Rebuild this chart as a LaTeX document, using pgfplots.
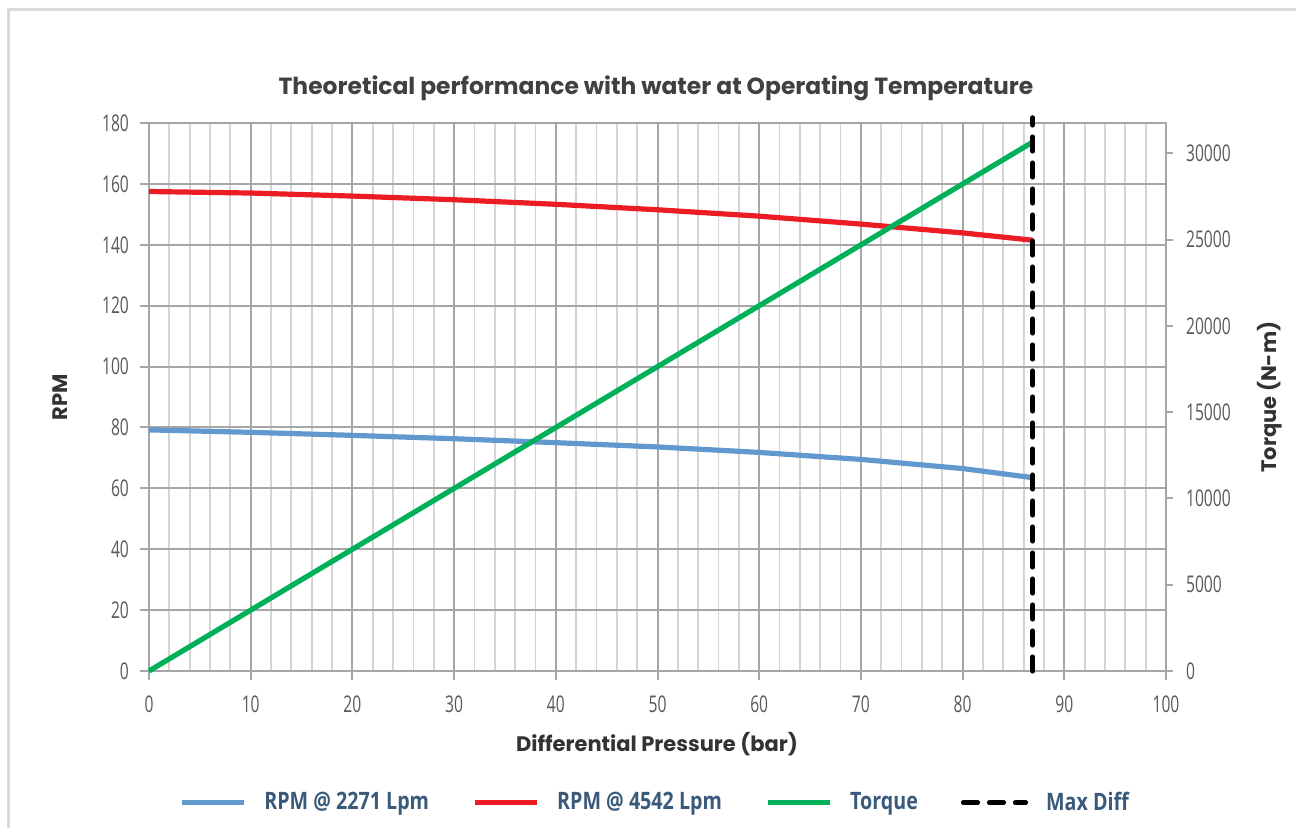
\documentclass[border=0pt]{standalone}
\usepackage{fontspec}
\setmainfont{Open Sans}
\newfontfamily\tickfont{Open Sans}[FakeStretch=0.68]
\newfontfamily\legfont{Open Sans}[FakeStretch=0.82]
\newfontfamily\headfont{Poppins}
\usepackage{pgfplots}
\pgfplotsset{compat=1.18}

\definecolor{rpmblue}{HTML}{6199CF}
\definecolor{rpmred}{HTML}{EC1C24}
\definecolor{torquegreen}{HTML}{00B159}
\definecolor{gridmajor}{HTML}{A6A6A6}
\definecolor{gridminor}{HTML}{D4D4D4}
\definecolor{ticktext}{HTML}{595959}
\definecolor{labeltext}{HTML}{333333}
\definecolor{legendtext}{HTML}{3A5A7C}

\pgfplotsset{
  common/.style={
    at={(74.5pt,78pt)}, anchor=south west,
    scale only axis, width=508.5pt, height=274pt,
    xmin=0, xmax=100,
    /pgf/number format/assume math mode=true,
    /pgf/number format/1000 sep={},
    tick label style={font=\tickfont\fontsize{11.5}{12}\selectfont, text=ticktext},
    label style={font=\headfont\bfseries\fontsize{10.5}{12}\selectfont, text=labeltext},
    tick align=outside,
    tick style={draw=gridmajor, line width=1pt},
    axis line style={draw=gridmajor, line width=1pt},
  }
}

\begin{document}
\begin{tikzpicture}[x=1pt,y=1pt]
\path[use as bounding box] (0,0) rectangle (648,413.5);
\draw[black!15, line width=1.5pt] (4,408.5) rectangle (660,-10);

% RPM axis
\begin{axis}[
  common,
  ymin=0, ymax=180,
  xtick distance=10, ytick distance=20, minor x tick num=4,
  xtick pos=bottom, ytick pos=left,
  major tick length=4.5pt, minor tick length=0pt,
  xticklabel style={yshift=-4.5pt},
  yticklabel style={xshift=-2pt},
  grid=both,
  major grid style={draw=gridmajor, line width=1pt},
  minor grid style={draw=gridminor, line width=0.9pt},
  title={Theoretical performance with water at Operating Temperature},
  title style={at={(axis description cs:0.4985,1.0675)}, anchor=center, yshift=-7pt,
    font=\headfont\bfseries\fontsize{11.7}{14}\selectfont, text=black!75},
  xlabel={Differential Pressure (bar)},
  xlabel style={at={(axis description cs:0.4995,-0.133)}, anchor=center},
  ylabel={RPM},
  ylabel style={at={(axis description cs:-0.0875,0.5)}, anchor=center},
]
\addplot[rpmblue, line width=2.6pt] coordinates {
  (0,79.2) (10,78.4) (20,77.4) (30,76.3) (40,75.0) (50,73.6)
  (60,71.8) (70,69.5) (80,66.5) (86.9,63.5)
};
\addplot[rpmred, line width=2.6pt] coordinates {
  (0,157.5) (10,157.0) (20,156.0) (30,154.8) (40,153.3) (50,151.5)
  (60,149.4) (70,146.8) (80,143.9) (86.9,141.5)
};
\end{axis}

% Torque axis
\begin{axis}[
  common,
  ymin=0, ymax=31750,
  axis x line=none, axis y line*=right,
  ytick={0,5000,10000,15000,20000,25000,30000},
  scaled y ticks=false,
  major tick length=3.5pt,
  yticklabel style={xshift=3pt},
  clip=false,
  ylabel={Torque (N-m)},
  ylabel style={at={(axis description cs:1.1023,0.5)}, anchor=center},
  legend columns=4,
  legend cell align=left,
  legend image code/.code={\draw[#1] (0pt,0pt) -- (31pt,0pt);},
  legend style={at={(axis description cs:0.4985,-0.24)}, anchor=center,
    draw=none, fill=none,
    font={\color{legendtext}\legfont\bfseries\fontsize{12}{14}\selectfont},
    /tikz/every odd column/.append style={column sep=7pt},
    /tikz/every even column/.append style={column sep=19.5pt}},
]
\addlegendimage{rpmblue, line width=2.6pt}
\addlegendentry{RPM @ 2271 Lpm}
\addlegendimage{rpmred, line width=2.6pt}
\addlegendentry{RPM @ 4542 Lpm}
\addplot[torquegreen, line width=2.6pt] coordinates {(0,0) (86.9,30650)};
\addlegendentry{Torque}
\addplot[black, line width=2.6pt, line cap=round, dash pattern=on 7pt off 6pt] coordinates {(86.9,0) (86.9,32050)};
\addlegendentry{Max Diff}
\end{axis}
\end{tikzpicture}
\end{document}
